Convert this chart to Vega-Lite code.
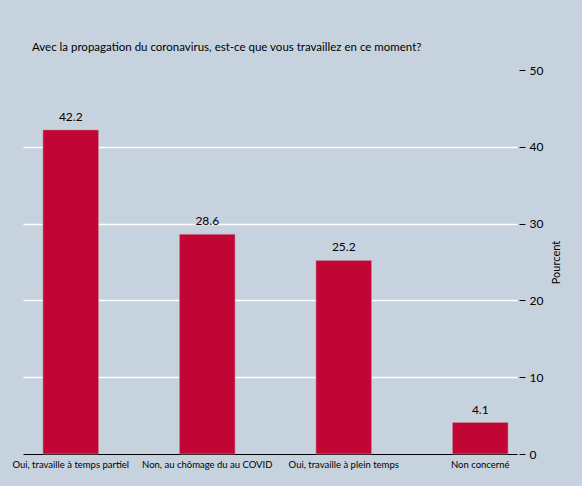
{
  "$schema": "https://vega.github.io/schema/vega-lite/v6.json",
  "width": 494,
  "height": 384,
  "autosize": {"type": "none"},
  "padding": {"left": 23, "top": 70, "right": 65, "bottom": 32},
  "background": "#c6d3df",
  "config": {
    "font": "Lato",
    "view": {"stroke": null},
    "title": {"font": "Lato"},
    "axis": {"labelFont": "Lato", "titleFont": "Lato"}
  },
  "title": {
    "text": "Avec la propagation du coronavirus, est-ce que vous travaillez en ce moment?",
    "anchor": "start",
    "frame": "group",
    "fontSize": 11.5,
    "fontWeight": "normal",
    "color": "#000000",
    "dx": 9,
    "offset": 11
  },
  "data": {
    "values": [
      {"reponse": "Oui, travaille à temps partiel", "pct": 42.2},
      {"reponse": "Non, au chômage du au COVID", "pct": 28.6},
      {"reponse": "Oui, travaille à plein temps", "pct": 25.2},
      {"reponse": "Non concerné", "pct": 4.1}
    ]
  },
  "encoding": {
    "x": {
      "field": "reponse",
      "type": "nominal",
      "sort": null,
      "scale": {"paddingInner": 0.593, "paddingOuter": 0.106, "align": 0.69},
      "axis": {
        "title": null,
        "labelAngle": 0,
        "labelFontSize": 9.5,
        "labelColor": "#000000",
        "labelLimit": 200,
        "labelPadding": 5,
        "ticks": false,
        "domainColor": "#000000",
        "domainWidth": 1.2
      }
    },
    "y": {
      "field": "pct",
      "type": "quantitative",
      "scale": {"domain": [0, 50], "nice": false},
      "axis": {
        "orient": "right",
        "title": "Pourcent",
        "titleAngle": 270,
        "titleFontSize": 11,
        "titleFontWeight": "normal",
        "titleColor": "#000000",
        "titlePadding": 19,
        "values": [0, 10, 20, 30, 40, 50],
        "domain": false,
        "offset": 2,
        "tickSize": 6,
        "tickColor": "#000000",
        "tickWidth": 1,
        "labelFontSize": 12,
        "labelColor": "#000000",
        "labelPadding": 4,
        "grid": true,
        "gridColor": "#ffffff",
        "gridWidth": 1.5,
        "gridOpacity": {"condition": {"test": "datum.value == 0 || datum.value == 50", "value": 0}, "value": 1}
      }
    }
  },
  "layer": [
    {
      "mark": {"type": "bar", "color": "#c10535", "stroke": "#c9919f", "strokeWidth": 0.6}
    },
    {
      "mark": {"type": "text", "dy": -6, "fontSize": 12, "color": "#000000", "baseline": "bottom"},
      "encoding": {"text": {"field": "pct", "type": "quantitative", "format": ".1f"}}
    }
  ]
}
